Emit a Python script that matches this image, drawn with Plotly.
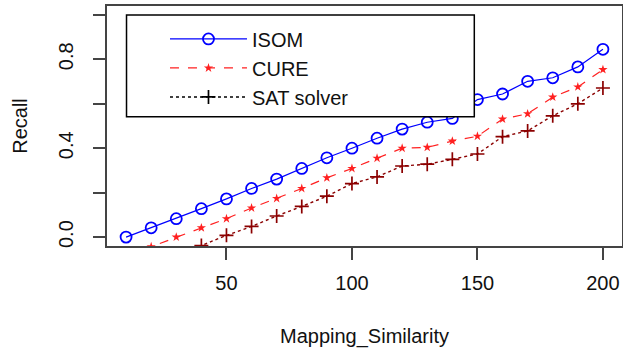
import plotly.graph_objects as go

similarity = [10, 20, 30, 40, 50, 60, 70, 80, 90, 100,
              110, 120, 130, 140, 150, 160, 170, 180, 190, 200]
isom = [0.0, 0.042, 0.083, 0.128, 0.172, 0.219, 0.261, 0.309, 0.357, 0.40,
        0.445, 0.486, 0.517, 0.534, 0.619, 0.644, 0.701, 0.717, 0.766, 0.845]
cure = [-0.085, -0.043, 0.0, 0.042, 0.083, 0.131, 0.174, 0.219, 0.267, 0.309,
        0.355, 0.40, 0.404, 0.432, 0.454, 0.531, 0.555, 0.63, 0.676, 0.754]
sat = [-0.17, -0.13, -0.085, -0.038, 0.008, 0.048, 0.095, 0.138, 0.184, 0.241,
       0.271, 0.32, 0.328, 0.35, 0.374, 0.452, 0.478, 0.546, 0.60, 0.671]
series_names = ["ISOM", "CURE", "SAT solver"]
x_tick_vals = [50, 100, 150, 200]
y_tick_vals = [0.0, 0.2, 0.4, 0.6, 0.8, 1.0]
y_tick_text = ["0.0", "", "0.4", "", "0.8", ""]

FONT = "Liberation Sans, Arial, sans-serif"

fig = go.Figure()
fig.add_trace(go.Scatter(
    x=similarity, y=isom, name=series_names[0], mode="lines+markers",
    line=dict(color="#0000FF", width=1.2, dash="solid"),
    marker=dict(symbol="circle-open", size=11, color="#0000FF", line=dict(width=1.8, color="#0000FF")),
))
fig.add_trace(go.Scatter(
    x=similarity, y=cure, name=series_names[1], mode="lines+markers",
    line=dict(color="#FF2020", width=1.2, dash="dash"),
    marker=dict(symbol="star", size=7, color="#FF2020"),
))
fig.add_trace(go.Scatter(
    x=similarity, y=sat, name=series_names[2], mode="lines+markers", showlegend=False,
    line=dict(color="#8B0000", width=1.4, dash="dot"),
    marker=dict(symbol="cross-thin-open", size=10, color="#8B0000", line=dict(width=1.7, color="#8B0000")),
))
fig.add_trace(go.Scatter(
    x=[None], y=[None], name=series_names[2], mode="lines+markers",
    line=dict(color="#000000", width=1.4, dash="dot"),
    marker=dict(symbol="cross-thin-open", size=10, color="#000000", line=dict(width=1.7, color="#000000")),
))

fig.add_shape(type="rect", xref="paper", yref="paper",
              x0=0.0379, x1=0.7132, y0=0.5385, y1=0.9623,
              line=dict(color="#000000", width=1.5), fillcolor="white", layer="above")

axis_common = dict(
    showline=True, mirror=True, linecolor="#444444", linewidth=2,
    ticks="outside", ticklen=12, tickwidth=1.5, tickcolor="#444444",
    showgrid=False, zeroline=False, automargin=False,
    tickfont=dict(family=FONT, size=20, color="#111111"),
)

fig.update_layout(
    width=623, height=349,
    margin=dict(l=107, r=1, t=6, b=103),
    paper_bgcolor="white", plot_bgcolor="white",
    font=dict(family=FONT, size=20, color="#111111"),
    xaxis=dict(range=[2.4, 207.6], tickvals=x_tick_vals, ticklabelstandoff=6,
               title=dict(text="Mapping_Similarity", standoff=36,
                          font=dict(family=FONT, size=20, color="#111111")),
               **axis_common),
    yaxis=dict(range=[-0.04, 1.04], tickvals=y_tick_vals, ticktext=y_tick_text,
               tickangle=-90, ticklabelstandoff=12,
               title=dict(text="Recall", standoff=22,
                          font=dict(family=FONT, size=20, color="#111111")),
               **axis_common),
    legend=dict(x=0.1126, y=0.944, xanchor="left", yanchor="top",
                bgcolor="rgba(0,0,0,0)", borderwidth=0, itemwidth=77,
                font=dict(family=FONT, size=20, color="#111111"),
                tracegroupgap=0),
    showlegend=True,
)

fig.write_html("out.html", config={"displayModeBar": False},
               post_script="document.body.style.margin='0';document.body.style.padding='0';")
